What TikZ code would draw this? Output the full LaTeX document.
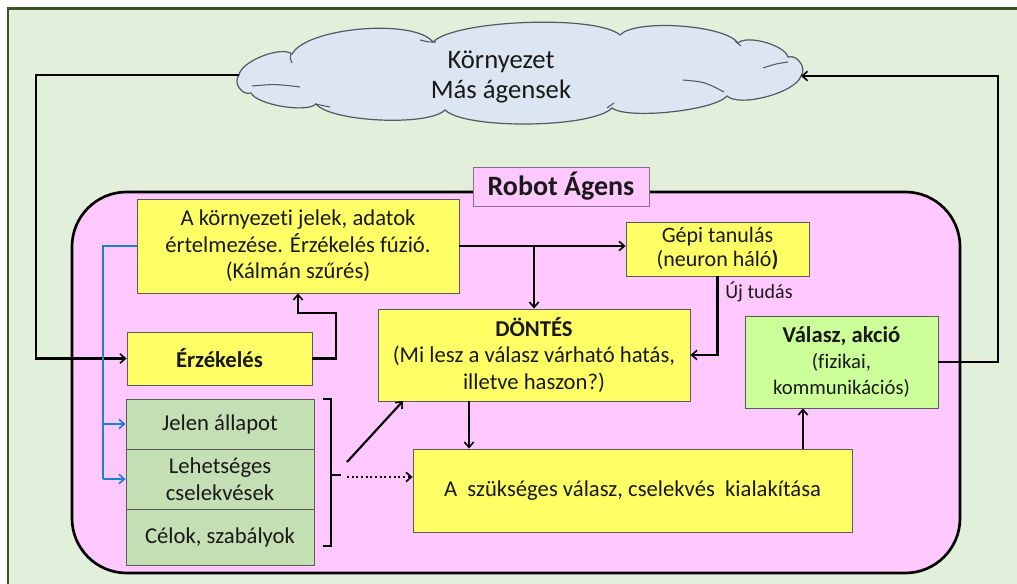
\documentclass[tikz,border=0pt]{standalone}
\usepackage{fontspec}
\setmainfont{Carlito}[Ligatures=NoCommon]
\usetikzlibrary{arrows.meta,calc}
\definecolor{bgg}{HTML}{E2EFDA}
\definecolor{frameg}{HTML}{375623}
\definecolor{pinkf}{HTML}{FFC8FF}
\definecolor{yel}{HTML}{FFFF66}
\definecolor{greenf}{HTML}{C4DFB3}
\definecolor{lime}{HTML}{CCFF99}
\definecolor{cloudf}{HTML}{DCE6F2}
\definecolor{cloudd}{HTML}{505A64}
\definecolor{bluel}{HTML}{1F7FD0}
\definecolor{boxd}{HTML}{5A5A5A}
\definecolor{labd}{HTML}{8C6A8C}
\newcommand{\lobe}[3]{.. controls ($(#1)!0.12!(#2)!#3!90:(#2)$) and ($(#2)!0.12!(#1)!#3!-90:(#1)$) .. (#2)}
\begin{document}
\begin{tikzpicture}[x=0.75pt,y=-0.75pt,
  every node/.style={font=\fontsize{17pt}{20pt}\selectfont, text=black!90},
  ybox/.style={draw=boxd, line width=0.7pt, fill=yel, align=center, inner sep=0pt},
  gbox/.style={draw=boxd, line width=0.7pt, fill=greenf, align=center, inner sep=0pt, minimum width=141pt},
  conn/.style={line width=1.6pt, draw=black},
  tip/.style={-{Straight Barb[length=4pt,width=7pt,line width=1.2pt]}},
  blu/.style={line width=1.5pt, draw=bluel},
]
\useasboundingbox (0,0) rectangle (1017,584);
% frame
\fill[bgg] (8,8) rectangle (1017,584);
\draw[frameg, line width=2.2pt] (8,590) -- (8,8.5) -- (1017,8.5);
% cloud
\coordinate (n1) at (239,75);
\coordinate (n2) at (292,54);
\coordinate (n3) at (433,42);
\coordinate (n4) at (620,35);
\coordinate (n5) at (738,43);
\coordinate (n6) at (788,57);
\coordinate (n7) at (801,76);
\coordinate (n8) at (727,96);
\coordinate (n9) at (612,108);
\coordinate (n10) at (445,110);
\coordinate (n11) at (316,104);
\coordinate (n12) at (251,93);
\fill[black!25, xshift=2pt, yshift=-2pt] (n1) \lobe{n1}{n2}{9pt} \lobe{n2}{n3}{19pt} \lobe{n3}{n4}{16pt} \lobe{n4}{n5}{13pt}
  \lobe{n5}{n6}{8pt} \lobe{n6}{n7}{7pt} \lobe{n7}{n8}{11pt} \lobe{n8}{n9}{10pt} \lobe{n9}{n10}{15pt}
  \lobe{n10}{n11}{13pt} \lobe{n11}{n12}{8pt} \lobe{n12}{n1}{7pt} -- cycle;
\draw[draw=cloudd, line width=0.9pt, fill=cloudf] (n1) \lobe{n1}{n2}{9pt} \lobe{n2}{n3}{19pt} \lobe{n3}{n4}{16pt} \lobe{n4}{n5}{13pt}
  \lobe{n5}{n6}{8pt} \lobe{n6}{n7}{7pt} \lobe{n7}{n8}{11pt} \lobe{n8}{n9}{10pt} \lobe{n9}{n10}{15pt}
  \lobe{n10}{n11}{13pt} \lobe{n11}{n12}{8pt} \lobe{n12}{n1}{7pt} -- cycle;
% inner folds
\draw[cloudd, line width=0.8pt] (291,54) .. controls (290,58) .. (292,63);
\draw[cloudd, line width=0.8pt] (420,40) .. controls (428,42) .. (436,42);
\draw[cloudd, line width=0.8pt] (735,41) .. controls (738,43) .. (741,46);
\draw[cloudd, line width=0.8pt] (763,68) .. controls (775,64) .. (788,62);
\draw[cloudd, line width=0.8pt] (683,80) .. controls (705,82) .. (724,92);
\draw[cloudd, line width=0.8pt] (252,86) .. controls (275,84) .. (300,87);
\draw[cloudd, line width=0.8pt] (315,104) .. controls (322,105) .. (330,107);
\draw[cloudd, line width=0.8pt] (607,108) .. controls (610,106) .. (614,103);
\node[font=\fontsize{20pt}{22.5pt}\selectfont, align=center] (envtxt) at (501,77) {Környezet\\Más ágensek};
% agent
\draw[line width=2pt, fill=pinkf, rounded corners=41pt] (72,192) rectangle (960,573);
\node[draw=labd, line width=0.7pt, fill=pinkf, minimum width=132pt, minimum height=29.25pt, inner sep=0pt,
      font=\fontsize{21pt}{24pt}\selectfont\bfseries] (robot) at (561,186.5) {Robot Ágens};
% boxes
\node[ybox, minimum width=241.5pt, minimum height=70.5pt] (interp) at (298,246)
  {A környezeti jelek, adatok\\értelmezése. Érzékelés fúzió.\\(Kálmán szűrés)};
\node[ybox, minimum width=138.75pt, minimum height=39.75pt, font=\fontsize{17pt}{20pt}\selectfont\bfseries] (erz) at (219.5,358.5) {Érzékelés};
\node[gbox, minimum height=37.5pt] (jelen) at (220,424) {Jelen állapot};
\node[gbox, minimum height=45pt] (lehet) at (220,479) {Lehetséges\\cselekvések};
\node[gbox, minimum height=42pt] (celok) at (220,537) {Célok, szabályok};
\node[ybox, minimum width=234pt, minimum height=69pt] (dontes) at (534,355)
  {\textbf{DÖNTÉS}\\(Mi lesz a válasz várható hatás,\\illetve haszon?)};
\node[ybox, minimum width=329.25pt, minimum height=62.25pt] (szuk) at (632.5,490.5)
  {A\ \ szükséges válasz, cselekvés\ \ kialakítása};
\node[draw=boxd, line width=0.7pt, fill=lime, align=center, inner sep=0pt, minimum width=144.75pt, minimum height=69pt,
      font=\fontsize{15.5pt}{19.5pt}\selectfont] (valasz) at (841.5,362)
  {{\fontsize{17pt}{19.5pt}\selectfont\bfseries Válasz, akció}\\(fizikai,\\kommunikációs)};
\node[ybox, minimum width=137.25pt, minimum height=40.5pt, font=\fontsize{16.5pt}{18pt}\selectfont] (gepi) at (717.5,249)
  {Gépi tanulás\\(neuron háló\textbf{)}};
\node[font=\fontsize{15pt}{17pt}\selectfont] (uj) at (759,292) {Új tudás};
% connectors
\coordinate (lx) at (36,358.5);
\coordinate (rx) at (998,362);
\draw[conn, tip] (n1) -| (lx) -- (erz.west);
\draw[conn, tip] (valasz.east) -- (rx) |- (n7);
\coordinate (k1) at (336,313);
\draw[conn, tip] (erz.east) -| (k1) -| (interp.south);
\coordinate (br) at (534,246);
\draw[conn, tip] (interp.east) -- (interp.east -| gepi.west);
\draw[conn, tip] (br) -- (dontes.north);
\draw[conn, tip] (gepi.south) |- (dontes.east);
\coordinate (bx) at (103,246);
\draw[blu] (interp.west) -- (bx) -- (bx |- lehet.west);
\draw[blu, tip] (bx |- jelen.west) -- (jelen.west);
\draw[blu, tip] (bx |- lehet.west) -- (lehet.west);
\coordinate (dx) at (469,0);
\draw[conn, tip] (dontes.south -| dx) -- (szuk.north -| dx);
\coordinate (vx) at (803,0);
\draw[conn, tip] (szuk.north -| vx) -- (valasz.south -| vx);
% bracket
\draw[line width=0.8pt] (323,399) -- (331,399) -- (331,546) -- (323,546);
\draw[line width=0.8pt] (331,475) -- (341,475);
\coordinate (ds) at (347,462);
\coordinate (de) at (403,401);
\draw[conn, tip] (ds) -- (de);
\coordinate (dots) at (347,477);
\draw[line width=1.5pt, dotted, tip] (dots) -- (dots -| szuk.west);
\end{tikzpicture}
\end{document}
